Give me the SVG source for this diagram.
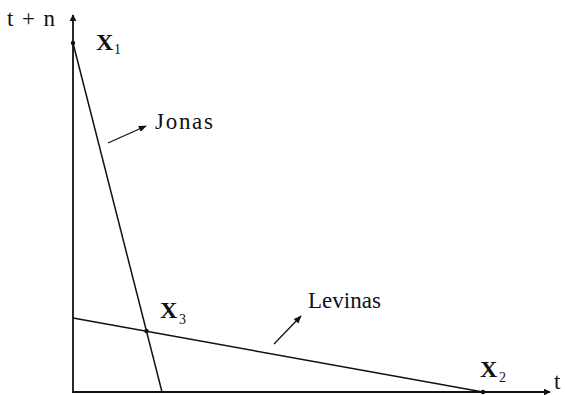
<svg xmlns="http://www.w3.org/2000/svg" width="565" height="395" viewBox="0 0 565 395">
<style>
.ax{stroke:#111;stroke-width:1.8;fill:none}
.ln{stroke:#111;stroke-width:1.5;fill:none}
.ar{stroke:#111;stroke-width:1.3;fill:none}
.lbl{font-family:"Liberation Serif","Times New Roman","DejaVu Serif",serif;fill:#111;font-size:23px}
.X{font-family:"Liberation Serif","Times New Roman","DejaVu Serif",serif;fill:#111;font-size:24px;font-weight:bold}
.sub{font-family:"Liberation Serif","Times New Roman","DejaVu Serif",serif;fill:#111;font-size:14px}
.dot{fill:#111}
</style>
<defs>
<marker id="ah" viewBox="0 0 10 10" refX="9" refY="5" markerWidth="7" markerHeight="7" markerUnits="userSpaceOnUse" orient="auto">
<path d="M0,0 L10,5 L0,10 z" fill="#111"/>
</marker>
<marker id="ahs" viewBox="0 0 10 10" refX="9" refY="5" markerWidth="8" markerHeight="8" markerUnits="userSpaceOnUse" orient="auto">
<path d="M0,1 L10,5 L0,9 z" fill="#111"/>
</marker>
</defs>
<g id="connectors">
<line class="ax" x1="73" y1="393" x2="73" y2="15" marker-end="url(#ah)"/>
<line class="ax" x1="72" y1="392" x2="550" y2="392" marker-end="url(#ah)"/>
<line id="jonas-line" class="ln" x1="73" y1="43" x2="162" y2="392"/>
<line id="levinas-line" class="ln" x1="73" y1="318" x2="483" y2="392"/>
<line class="ar" x1="108" y1="143" x2="146" y2="126" marker-end="url(#ahs)"/>
<line class="ar" x1="274" y1="344" x2="301" y2="316" marker-end="url(#ahs)"/>
</g>
<g id="axis-y-label"><text class="lbl" x="7" y="26" textLength="48" lengthAdjust="spacing">t + n</text></g>
<g id="axis-x-label"><text class="lbl" x="554" y="389">t</text></g>
<g id="X1">
<circle class="dot" cx="73" cy="43" r="2.2"/>
<text class="X" x="96" y="50">X</text><text class="sub" x="114" y="54">1</text>
</g>
<g id="X3">
<circle class="dot" cx="146.5" cy="331" r="2.2"/>
<text class="X" x="160" y="318">X</text><text class="sub" x="179" y="324">3</text>
</g>
<g id="X2">
<circle class="dot" cx="483" cy="392" r="2.2"/>
<text class="X" x="480" y="377">X</text><text class="sub" x="499" y="382">2</text>
</g>
<g id="jonas-label"><text class="lbl" x="155" y="129" textLength="58" lengthAdjust="spacing">Jonas</text></g>
<g id="levinas-label"><text class="lbl" x="308" y="308" textLength="73" lengthAdjust="spacing">Levinas</text></g>
</svg>
